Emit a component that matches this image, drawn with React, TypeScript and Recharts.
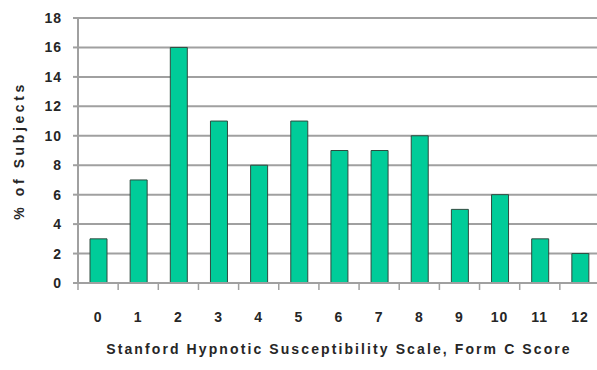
import { BarChart, Bar, XAxis, YAxis, CartesianGrid } from 'recharts';

const scores = ['0', '1', '2', '3', '4', '5', '6', '7', '8', '9', '10', '11', '12'];
const percentSubjects = [3, 7, 16, 11, 8, 11, 9, 9, 10, 5, 6, 3, 2];
const yTicks = [0, 2, 4, 6, 8, 10, 12, 14, 16, 18];

const chartData = scores.map((score, i) => ({
  score,
  value: percentSubjects[i],
}));

const CHART_W = 604;
const CHART_H = 370;
const PLOT_LEFT = 78;
const PLOT_RIGHT = 600;
const STEP = (PLOT_RIGHT - PLOT_LEFT) / scores.length;

const textColor = '#262626';
const gridColor = '#a0a0a0';
const font = "'Liberation Sans', Arial, sans-serif";

// tick marks in the original sit between categories, not under the bars
function ScoreTick(props: any) {
  const { x, y, payload } = props;
  const left = x - STEP / 2;
  return (
    <g>
      <line x1={left} y1={y - 8} x2={left} y2={y - 1} stroke={gridColor} strokeWidth={1.5} />
      <text
        x={x}
        y={y + 31}
        textAnchor="middle"
        fill={textColor}
        fontSize={14}
        fontWeight="bold"
        fontFamily={font}
        letterSpacing={1}
      >
        {payload.value}
      </text>
    </g>
  );
}

export default function App() {
  return (
    <div
      style={{
        position: 'absolute',
        left: 0,
        top: 0,
        width: 597,
        height: 370,
        overflow: 'hidden',
        background: '#fff',
      }}
    >
      <BarChart
        width={CHART_W}
        height={CHART_H}
        data={chartData}
        barCategoryGap={0}
        margin={{ top: 18, right: CHART_W - PLOT_RIGHT, left: 0, bottom: 16 }}
      >
        <CartesianGrid stroke={gridColor} strokeWidth={2} vertical={false} />
        <XAxis
          dataKey="score"
          axisLine={{ stroke: gridColor, strokeWidth: 2 }}
          tickLine={false}
          tick={<ScoreTick />}
          interval={0}
          height={71}
          label={{
            value: 'Stanford Hypnotic Susceptibility Scale, Form C Score',
            position: 'insideBottom',
            offset: 0,
            fill: textColor,
            fontSize: 14,
            fontWeight: 'bold',
            fontFamily: font,
            letterSpacing: 2.1,
          }}
        />
        <YAxis
          domain={[0, 18]}
          ticks={yTicks}
          interval={0}
          width={PLOT_LEFT}
          axisLine={{ stroke: gridColor, strokeWidth: 2 }}
          tickLine={{ stroke: gridColor, strokeWidth: 2 }}
          tickSize={5}
          tickMargin={11}
          tick={{
            fill: textColor,
            fontSize: 14,
            fontWeight: 'bold',
            fontFamily: font,
            letterSpacing: 1,
          }}
          label={{
            value: '% of Subjects',
            angle: -90,
            position: 'insideLeft',
            offset: 19,
            fill: textColor,
            fontSize: 14,
            fontWeight: 'bold',
            fontFamily: font,
            letterSpacing: 3.6,
            style: { textAnchor: 'middle' },
          }}
        />
        <Bar
          dataKey="value"
          fill="#00cc99"
          stroke="#2f4a3f"
          strokeWidth={1}
          barSize={17}
          isAnimationActive={false}
        />
      </BarChart>
    </div>
  );
}
